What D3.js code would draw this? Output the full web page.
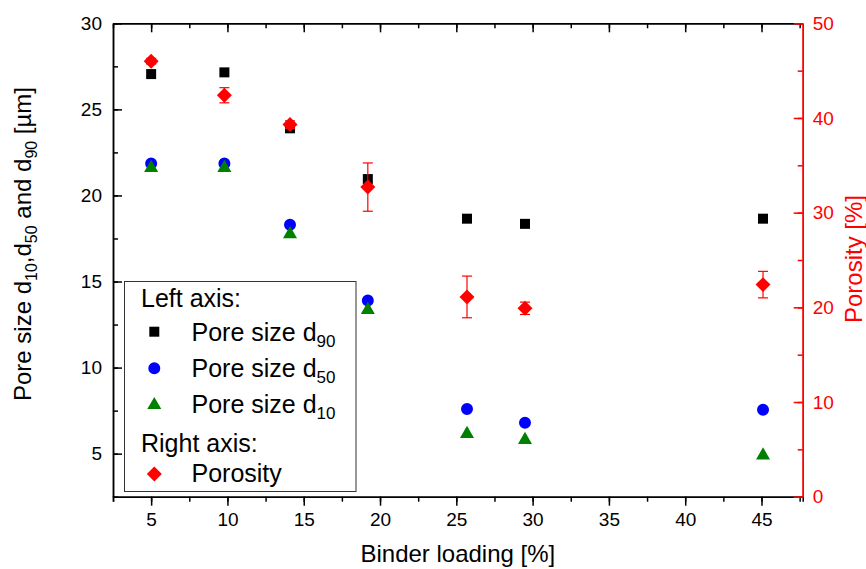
<!DOCTYPE html>
<html>
<head>
<meta charset="utf-8">
<script src="https://cdn.jsdelivr.net/npm/d3@7"></script>
<style>
  body { margin: 0; background: #fff; }
  svg { font-family: "Liberation Sans", Arial, sans-serif; }
</style>
</head>
<body>
<svg id="chart" width="866" height="569"></svg>
<script>
/// DATA ///
var binderLoading = [5, 9.8, 14.1, 19.2, 25.7, 29.5, 45.1];
var poreD90 = [27.05, 27.15, 23.9, 20.95, 18.65, 18.35, 18.65];
var poreD50 = [21.85, 21.85, 18.3, 13.9, 7.6, 6.8, 7.55];
var poreD10 = [21.6, 21.6, 17.75, 13.35, 6.15, 5.8, 4.9];
var porosity = [46.0, 42.4, 39.3, 32.7, 21.1, 19.9, 22.4];
var porosityErr = [0.3, 0.8, 0.4, 2.55, 2.2, 0.65, 1.4];

var xTicks = [5, 10, 15, 20, 25, 30, 35, 40, 45];
var leftTicks = [5, 10, 15, 20, 25, 30];
var rightTicks = [0, 10, 20, 30, 40, 50];

/// SETUP ///
var svg = d3.select("#chart");
var plot = { left: 113, right: 802.7, top: 23.3, bottom: 496.7 };
var RED = "#ff0000";

var x = d3.scaleLinear().domain([2.5, 47.7]).range([plot.left, plot.right]);
var yLeft = d3.scaleLinear().domain([2.5, 30]).range([plot.bottom, plot.top]);
var yRight = d3.scaleLinear().domain([0, 50]).range([plot.bottom, plot.top]);

function rows(values) {
  return binderLoading.map(function (b, i) {
    return { x: b, y: values[i], i: i };
  });
}

// HELPER FUNCTION: style an axis group
function styleAxis(g, color, fontSize) {
  g.selectAll("path, line")
    .attr("stroke", color)
    .attr("stroke-width", 1.5);
  g.selectAll("text")
    .attr("fill", color)
    .style("font-size", fontSize + "px")
    .style("font-family", '"Liberation Sans", Arial, sans-serif');
}

/// AXES ///
// bottom
svg.append("g")
  .attr("transform", "translate(0," + plot.bottom + ")")
  .call(d3.axisBottom(x).tickValues(d3.range(2.5, 47.6, 2.5)).tickSize(5).tickFormat(""))
  .call(styleAxis, "#000", 19);
svg.append("g")
  .attr("transform", "translate(0," + plot.bottom + ")")
  .call(d3.axisBottom(x).tickValues(xTicks).tickSizeInner(9).tickSizeOuter(0).tickPadding(7))
  .call(styleAxis, "#000", 19);

// top (mirror, inward ticks)
svg.append("g")
  .attr("transform", "translate(0," + plot.top + ")")
  .call(d3.axisTop(x).tickValues(d3.range(2.5, 47.6, 2.5)).tickSizeInner(-5).tickSizeOuter(0).tickFormat(""))
  .call(styleAxis, "#000", 19);
svg.append("g")
  .attr("transform", "translate(0," + plot.top + ")")
  .call(d3.axisTop(x).tickValues(xTicks).tickSizeInner(-9).tickSizeOuter(0).tickFormat(""))
  .call(styleAxis, "#000", 19);

// left (inward ticks)
svg.append("g")
  .attr("transform", "translate(" + plot.left + ",0)")
  .call(d3.axisLeft(yLeft).tickValues(d3.range(2.5, 30.1, 2.5)).tickSizeInner(-5).tickSizeOuter(0).tickFormat(""))
  .call(styleAxis, "#000", 19);
svg.append("g")
  .attr("transform", "translate(" + plot.left + ",0)")
  .call(d3.axisLeft(yLeft).tickValues(leftTicks).tickSizeInner(-9).tickSizeOuter(0).tickPadding(11))
  .call(styleAxis, "#000", 19);

// right (porosity, red, inward ticks)
svg.append("g")
  .attr("transform", "translate(" + plot.right + ",0)")
  .call(d3.axisRight(yRight).tickValues(d3.range(0, 50.1, 5)).tickSizeInner(-5).tickSizeOuter(0).tickFormat(""))
  .call(styleAxis, RED, 19);
svg.append("g")
  .attr("transform", "translate(" + plot.right + ",0)")
  .call(d3.axisRight(yRight).tickValues(rightTicks).tickSizeInner(-9).tickSizeOuter(0).tickPadding(10))
  .call(styleAxis, RED, 19);

/// AXIS TITLES ///
svg.append("text")
  .attr("x", (plot.left + plot.right) / 2)
  .attr("y", 562)
  .attr("text-anchor", "middle")
  .style("font-size", "24px")
  .text("Binder loading [%]");

var leftTitle = svg.append("text")
  .attr("transform", "translate(31,244) rotate(-90)")
  .attr("text-anchor", "middle")
  .style("font-size", "24px");
[["Pore size d", 0], ["10", 1], [",d", 0], ["50", 1], [" and d", 0], ["90", 1], [" [µm]", 0]]
  .forEach(function (p, i, arr) {
    var prevSub = i > 0 && arr[i - 1][1];
    leftTitle.append("tspan")
      .attr("dy", p[1] ? 6 : (prevSub ? -6 : 0))
      .style("font-size", p[1] ? "16px" : "24px")
      .text(p[0]);
  });

svg.append("text")
  .attr("transform", "translate(862,259) rotate(-90)")
  .attr("text-anchor", "middle")
  .attr("fill", RED)
  .style("font-size", "24px")
  .text("Porosity [%]");

/// MARKERS ///
var square = d3.symbol().type(d3.symbolSquare).size(100);
var circle = d3.symbol().type(d3.symbolCircle).size(113);
var triangle = d3.symbol().type(d3.symbolTriangle).size(85);
var diamond = d3.symbol().type(d3.symbolSquare).size(112);

var marks = svg.append("g").attr("class", "marks");

function drawSeries(data, scale, shape, color, rotate) {
  marks.append("g")
    .selectAll("path")
    .data(data)
    .enter()
    .append("path")
    .attr("d", shape)
    .attr("fill", color)
    .attr("transform", function (d) {
      return "translate(" + x(d.x) + "," + scale(d.y) + ")" + (rotate ? " rotate(45)" : "");
    });
}

drawSeries(rows(poreD90), yLeft, square, "#000000", false);
drawSeries(rows(poreD50), yLeft, circle, "#0000ff", false);
drawSeries(rows(poreD10), yLeft, triangle, "#008000", false);

// porosity error bars
var errG = marks.append("g")
  .selectAll("g")
  .data(rows(porosity))
  .enter()
  .append("g")
  .attr("stroke", RED)
  .attr("stroke-width", 1.2);
errG.append("line")
  .attr("x1", function (d) { return x(d.x); })
  .attr("x2", function (d) { return x(d.x); })
  .attr("y1", function (d) { return yRight(d.y + porosityErr[d.i]); })
  .attr("y2", function (d) { return yRight(d.y - porosityErr[d.i]); });
[1, -1].forEach(function (s) {
  errG.append("line")
    .attr("x1", function (d) { return x(d.x) - 5; })
    .attr("x2", function (d) { return x(d.x) + 5; })
    .attr("y1", function (d) { return yRight(d.y + s * porosityErr[d.i]); })
    .attr("y2", function (d) { return yRight(d.y + s * porosityErr[d.i]); });
});

drawSeries(rows(porosity), yRight, diamond, RED, true);

/// LEGEND ///
var legend = svg.append("g").attr("class", "legend");
legend.append("rect")
  .attr("x", 124.5)
  .attr("y", 281.5)
  .attr("width", 231.5)
  .attr("height", 210)
  .attr("fill", "#fff")
  .attr("stroke", "#333")
  .attr("stroke-width", 1);

legend.append("text").attr("x", 141).attr("y", 307).style("font-size", "25px").text("Left axis:");
legend.append("text").attr("x", 141).attr("y", 451.5).style("font-size", "25px").text("Right axis:");

var legendItems = [
  { shape: square, color: "#000000", rot: false, sy: 331.7, ty: 341, label: "Pore size d", sub: "90" },
  { shape: circle, color: "#0000ff", rot: false, sy: 368.3, ty: 377, label: "Pore size d", sub: "50" },
  { shape: triangle, color: "#008000", rot: false, sy: 405, ty: 413, label: "Pore size d", sub: "10" },
  { shape: diamond, color: RED, rot: true, sy: 474, ty: 482, label: "Porosity", sub: "" }
];

legendItems.forEach(function (d) {
  legend.append("path")
    .attr("d", d.shape)
    .attr("fill", d.color)
    .attr("transform", "translate(154.3," + d.sy + ")" + (d.rot ? " rotate(45)" : ""));
  var t = legend.append("text")
    .attr("x", 191.5)
    .attr("y", d.ty)
    .style("font-size", "25px");
  t.append("tspan").text(d.label);
  if (d.sub) {
    t.append("tspan").attr("dy", 6).style("font-size", "17px").text(d.sub);
  }
});
</script>
</body>
</html>
